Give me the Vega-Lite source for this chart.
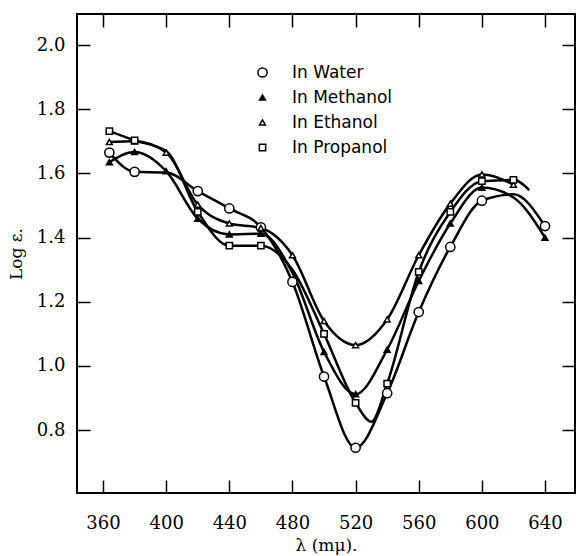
{
  "$schema": "https://vega.github.io/schema/vega-lite/v6.json",
  "autosize": {"type": "none"},
  "padding": {"left": 77, "top": 14, "right": 8, "bottom": 63},
  "width": 498,
  "height": 479,
  "background": "white",
  "config": {
    "view": {"stroke": "black", "strokeWidth": 2},
    "axis": {
      "domain": false,
      "grid": false,
      "ticks": true,
      "tickColor": "black",
      "tickWidth": 1.5,
      "tickSize": -13,
      "labelFont": "DejaVu Serif",
      "labelFontSize": 18,
      "labelColor": "black",
      "titleFont": "DejaVu Serif",
      "titleFontSize": 17,
      "titleFontWeight": "normal",
      "titleColor": "black"
    },
    "legend": {
      "orient": "none",
      "legendX": 177,
      "legendY": 50,
      "title": null,
      "labelFont": "DejaVu Sans",
      "labelFontSize": 17,
      "labelColor": "black",
      "rowPadding": 7,
      "labelOffset": 21
    }
  },
  "datasets": {
    "curves": [
      {"series": "In Water", "wavelength": 364, "log_eps": 1.665},
      {"series": "In Water", "wavelength": 380, "log_eps": 1.605},
      {"series": "In Water", "wavelength": 400, "log_eps": 1.603},
      {"series": "In Water", "wavelength": 420, "log_eps": 1.545},
      {"series": "In Water", "wavelength": 440, "log_eps": 1.491},
      {"series": "In Water", "wavelength": 460, "log_eps": 1.432},
      {"series": "In Water", "wavelength": 480, "log_eps": 1.262},
      {"series": "In Water", "wavelength": 500, "log_eps": 0.967},
      {"series": "In Water", "wavelength": 520, "log_eps": 0.745},
      {"series": "In Water", "wavelength": 540, "log_eps": 0.915},
      {"series": "In Water", "wavelength": 560, "log_eps": 1.168},
      {"series": "In Water", "wavelength": 580, "log_eps": 1.371},
      {"series": "In Water", "wavelength": 600, "log_eps": 1.515},
      {"series": "In Water", "wavelength": 620, "log_eps": 1.535},
      {"series": "In Water", "wavelength": 640, "log_eps": 1.436},
      {"series": "In Methanol", "wavelength": 364, "log_eps": 1.635},
      {"series": "In Methanol", "wavelength": 380, "log_eps": 1.667},
      {"series": "In Methanol", "wavelength": 400, "log_eps": 1.607},
      {"series": "In Methanol", "wavelength": 420, "log_eps": 1.459},
      {"series": "In Methanol", "wavelength": 440, "log_eps": 1.41},
      {"series": "In Methanol", "wavelength": 460, "log_eps": 1.412},
      {"series": "In Methanol", "wavelength": 480, "log_eps": 1.29},
      {"series": "In Methanol", "wavelength": 500, "log_eps": 1.044},
      {"series": "In Methanol", "wavelength": 520, "log_eps": 0.912},
      {"series": "In Methanol", "wavelength": 540, "log_eps": 1.051},
      {"series": "In Methanol", "wavelength": 560, "log_eps": 1.265},
      {"series": "In Methanol", "wavelength": 580, "log_eps": 1.444},
      {"series": "In Methanol", "wavelength": 600, "log_eps": 1.556},
      {"series": "In Methanol", "wavelength": 620, "log_eps": 1.525},
      {"series": "In Methanol", "wavelength": 640, "log_eps": 1.4},
      {"series": "In Ethanol", "wavelength": 364, "log_eps": 1.698},
      {"series": "In Ethanol", "wavelength": 380, "log_eps": 1.7},
      {"series": "In Ethanol", "wavelength": 400, "log_eps": 1.665},
      {"series": "In Ethanol", "wavelength": 420, "log_eps": 1.503},
      {"series": "In Ethanol", "wavelength": 440, "log_eps": 1.444},
      {"series": "In Ethanol", "wavelength": 460, "log_eps": 1.43},
      {"series": "In Ethanol", "wavelength": 480, "log_eps": 1.345},
      {"series": "In Ethanol", "wavelength": 500, "log_eps": 1.14},
      {"series": "In Ethanol", "wavelength": 520, "log_eps": 1.065},
      {"series": "In Ethanol", "wavelength": 540, "log_eps": 1.145},
      {"series": "In Ethanol", "wavelength": 560, "log_eps": 1.345},
      {"series": "In Ethanol", "wavelength": 580, "log_eps": 1.506},
      {"series": "In Ethanol", "wavelength": 600, "log_eps": 1.597},
      {"series": "In Ethanol", "wavelength": 620, "log_eps": 1.565},
      {"series": "In Propanol", "wavelength": 364, "log_eps": 1.732},
      {"series": "In Propanol", "wavelength": 380, "log_eps": 1.703},
      {"series": "In Propanol", "wavelength": 400, "log_eps": 1.67},
      {"series": "In Propanol", "wavelength": 420, "log_eps": 1.48},
      {"series": "In Propanol", "wavelength": 440, "log_eps": 1.375},
      {"series": "In Propanol", "wavelength": 460, "log_eps": 1.375},
      {"series": "In Propanol", "wavelength": 480, "log_eps": 1.3},
      {"series": "In Propanol", "wavelength": 500, "log_eps": 1.1},
      {"series": "In Propanol", "wavelength": 520, "log_eps": 0.885},
      {"series": "In Propanol", "wavelength": 530, "log_eps": 0.826},
      {"series": "In Propanol", "wavelength": 540, "log_eps": 0.945},
      {"series": "In Propanol", "wavelength": 560, "log_eps": 1.293},
      {"series": "In Propanol", "wavelength": 580, "log_eps": 1.48},
      {"series": "In Propanol", "wavelength": 600, "log_eps": 1.576},
      {"series": "In Propanol", "wavelength": 620, "log_eps": 1.58},
      {"series": "In Propanol", "wavelength": 630, "log_eps": 1.548}
    ],
    "markers": [
      {"series": "In Water", "wavelength": 364, "log_eps": 1.665},
      {"series": "In Water", "wavelength": 380, "log_eps": 1.605},
      {"series": "In Water", "wavelength": 420, "log_eps": 1.545},
      {"series": "In Water", "wavelength": 440, "log_eps": 1.491},
      {"series": "In Water", "wavelength": 460, "log_eps": 1.432},
      {"series": "In Water", "wavelength": 480, "log_eps": 1.262},
      {"series": "In Water", "wavelength": 500, "log_eps": 0.967},
      {"series": "In Water", "wavelength": 520, "log_eps": 0.745},
      {"series": "In Water", "wavelength": 540, "log_eps": 0.915},
      {"series": "In Water", "wavelength": 560, "log_eps": 1.168},
      {"series": "In Water", "wavelength": 580, "log_eps": 1.371},
      {"series": "In Water", "wavelength": 600, "log_eps": 1.515},
      {"series": "In Water", "wavelength": 640, "log_eps": 1.436},
      {"series": "In Methanol", "wavelength": 364, "log_eps": 1.635},
      {"series": "In Methanol", "wavelength": 380, "log_eps": 1.667},
      {"series": "In Methanol", "wavelength": 400, "log_eps": 1.607},
      {"series": "In Methanol", "wavelength": 420, "log_eps": 1.459},
      {"series": "In Methanol", "wavelength": 440, "log_eps": 1.41},
      {"series": "In Methanol", "wavelength": 460, "log_eps": 1.412},
      {"series": "In Methanol", "wavelength": 500, "log_eps": 1.044},
      {"series": "In Methanol", "wavelength": 520, "log_eps": 0.912},
      {"series": "In Methanol", "wavelength": 540, "log_eps": 1.051},
      {"series": "In Methanol", "wavelength": 560, "log_eps": 1.265},
      {"series": "In Methanol", "wavelength": 580, "log_eps": 1.444},
      {"series": "In Methanol", "wavelength": 600, "log_eps": 1.556},
      {"series": "In Methanol", "wavelength": 640, "log_eps": 1.4},
      {"series": "In Ethanol", "wavelength": 364, "log_eps": 1.698},
      {"series": "In Ethanol", "wavelength": 380, "log_eps": 1.7},
      {"series": "In Ethanol", "wavelength": 400, "log_eps": 1.665},
      {"series": "In Ethanol", "wavelength": 420, "log_eps": 1.503},
      {"series": "In Ethanol", "wavelength": 440, "log_eps": 1.444},
      {"series": "In Ethanol", "wavelength": 460, "log_eps": 1.43},
      {"series": "In Ethanol", "wavelength": 480, "log_eps": 1.345},
      {"series": "In Ethanol", "wavelength": 500, "log_eps": 1.14},
      {"series": "In Ethanol", "wavelength": 520, "log_eps": 1.065},
      {"series": "In Ethanol", "wavelength": 540, "log_eps": 1.145},
      {"series": "In Ethanol", "wavelength": 560, "log_eps": 1.345},
      {"series": "In Ethanol", "wavelength": 580, "log_eps": 1.506},
      {"series": "In Ethanol", "wavelength": 600, "log_eps": 1.597},
      {"series": "In Ethanol", "wavelength": 620, "log_eps": 1.565},
      {"series": "In Propanol", "wavelength": 364, "log_eps": 1.732},
      {"series": "In Propanol", "wavelength": 380, "log_eps": 1.703},
      {"series": "In Propanol", "wavelength": 420, "log_eps": 1.48},
      {"series": "In Propanol", "wavelength": 440, "log_eps": 1.375},
      {"series": "In Propanol", "wavelength": 460, "log_eps": 1.375},
      {"series": "In Propanol", "wavelength": 500, "log_eps": 1.1},
      {"series": "In Propanol", "wavelength": 520, "log_eps": 0.885},
      {"series": "In Propanol", "wavelength": 540, "log_eps": 0.945},
      {"series": "In Propanol", "wavelength": 560, "log_eps": 1.293},
      {"series": "In Propanol", "wavelength": 580, "log_eps": 1.48},
      {"series": "In Propanol", "wavelength": 600, "log_eps": 1.576},
      {"series": "In Propanol", "wavelength": 620, "log_eps": 1.58}
    ]
  },
  "layer": [
    {
      "data": {"name": "curves"},
      "mark": {"type": "line", "interpolate": "monotone", "color": "black", "strokeWidth": 2.5},
      "encoding": {
        "x": {
          "field": "wavelength", "type": "quantitative",
          "scale": {"domain": [343.5, 659], "nice": false, "zero": false},
          "axis": {"orient": "bottom", "values": [360, 400, 440, 480, 520, 560, 600, 640], "title": "λ (mμ).", "labelPadding": 34, "titleY": 44}
        },
        "y": {
          "field": "log_eps", "type": "quantitative",
          "scale": {"domain": [0.604, 2.097], "nice": false, "zero": false},
          "axis": {"orient": "left", "values": [0.8, 1.0, 1.2, 1.4, 1.6, 1.8, 2.0], "format": ".1f", "title": "Log ε.", "labelPadding": 25, "titleX": -52}
        },
        "detail": {"field": "series", "type": "nominal"}
      }
    },
    {
      "data": {"name": "markers"},
      "mark": {"type": "point", "stroke": "black", "strokeWidth": 1.5, "opacity": 1, "fillOpacity": 1},
      "encoding": {
        "x": {
          "field": "wavelength", "type": "quantitative",
          "axis": {"orient": "top", "values": [360, 400, 440, 480, 520, 560, 600, 640], "labels": false, "title": null}
        },
        "y": {
          "field": "log_eps", "type": "quantitative",
          "axis": {"orient": "right", "values": [0.8, 1.0, 1.2, 1.4, 1.6, 1.8, 2.0], "labels": false, "title": null}
        },
        "shape": {
          "field": "series", "type": "nominal",
          "scale": {"domain": ["In Water", "In Methanol", "In Ethanol", "In Propanol"], "range": ["circle", "triangle-up", "triangle-up", "square"]},
          "legend": {"encode": {"symbols": {"update": {"stroke": {"value": "black"}, "strokeWidth": {"value": 1.5}}}}}
        },
        "fill": {
          "field": "series", "type": "nominal",
          "scale": {"domain": ["In Water", "In Methanol", "In Ethanol", "In Propanol"], "range": ["white", "black", "white", "white"]},
          "legend": {"encode": {"symbols": {"update": {"stroke": {"value": "black"}, "strokeWidth": {"value": 1.5}}}}}
        },
        "size": {
          "field": "series", "type": "nominal",
          "scale": {"type": "ordinal", "domain": ["In Water", "In Methanol", "In Ethanol", "In Propanol"], "range": [85, 35, 35, 40]},
          "legend": {"encode": {"symbols": {"update": {"stroke": {"value": "black"}, "strokeWidth": {"value": 1.5}}}}}
        }
      }
    }
  ],
  "resolve": {"axis": {"x": "independent", "y": "independent"}}
}
